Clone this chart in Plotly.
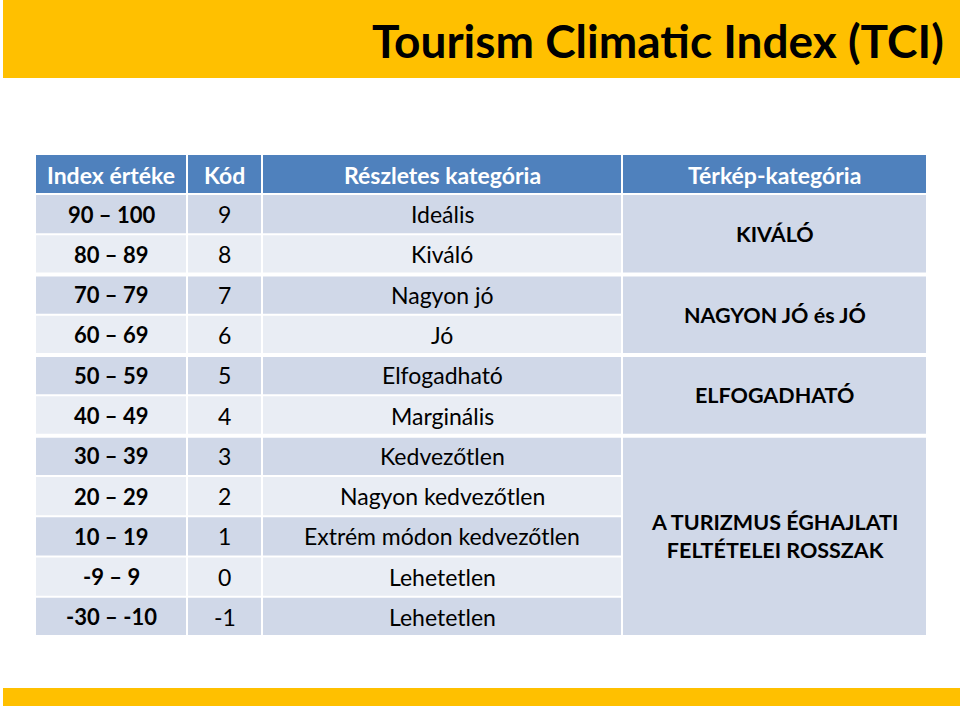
import plotly.graph_objects as go

# ---- data ----
title_text = "Tourism Climatic Index (TCI)"
headers = ["Index értéke", "Kód", "Részletes kategória", "Térkép-kategória"]
index_ranges = ["90 – 100", "80 – 89", "70 – 79", "60 – 69", "50 – 59", "40 – 49",
                "30 – 39", "20 – 29", "10 – 19", "-9 – 9", "-30 – -10"]
codes = ["9", "8", "7", "6", "5", "4", "3", "2", "1", "0", "-1"]
details = ["Ideális", "Kiváló", "Nagyon jó", "Jó", "Elfogadható", "Marginális",
           "Kedvezőtlen", "Nagyon kedvezőtlen", "Extrém módon kedvezőtlen",
           "Lehetetlen", "Lehetetlen"]
map_categories = ["KIVÁLÓ", "NAGYON JÓ és JÓ", "ELFOGADHATÓ",
                  "A TURIZMUS ÉGHAJLATI<br>FELTÉTELEI ROSSZAK"]
map_spans = [2, 2, 2, 5]

# ---- style / layout ----
W, H = 960, 706
FONT = "Lato"
YELLOW = "#FFC000"
HEAD = "#4F81BD"
DARK = "#D0D8E8"
LIGHT = "#E9EDF4"
TXT = 23
col_sizes = [22, 23, 23, 21.5]
col_edges = [35, 187, 262, 622, 927]
head_top, head_bot = 155, 194
row_h = (637 - head_bot) / len(index_ranges)

group_ends = set()
acc = 0
for s in map_spans:
    acc += s
    group_ends.add(acc)

shapes = []
annots = []

def rect(x0, y0, x1, y1, color):
    shapes.append(dict(type="rect", xref="x", yref="y", x0=x0, y0=y0, x1=x1, y1=y1,
                       fillcolor=color, line=dict(width=0), layer="below"))

def text(x, y, t, size, color="black", bold=False, xanchor="center"):
    annots.append(dict(x=x, y=y, xref="x", yref="y", text=(f"<b>{t}</b>" if bold else t),
                       showarrow=False, xanchor=xanchor, yanchor="middle",
                       font=dict(family=FONT, size=size, color=color)))

# title bars
rect(3, 0, W, 78, YELLOW)
rect(3, 688, W, 706, YELLOW)
text(946, 40, title_text, 46, "black", True, xanchor="right")

# header
for c in range(4):
    rect(col_edges[c] + 1, head_top, col_edges[c + 1] - 1, head_bot - 1, HEAD)
    text((col_edges[c] + col_edges[c + 1]) / 2, (head_top + head_bot) / 2, headers[c], TXT, "white", True)

def row_bounds(i):
    y0 = head_bot + i * row_h
    y1 = y0 + row_h
    top_gap = 2 if i in group_ends else 1
    bot_gap = 2 if (i + 1) in group_ends else 1
    if i == 0:
        top_gap = 1
    return y0 + top_gap, y1 - bot_gap

cols = [index_ranges, codes, details]
for i in range(len(index_ranges)):
    y0, y1 = row_bounds(i)
    color = DARK if i % 2 == 0 else LIGHT
    for c in range(3):
        rect(col_edges[c] + 1, y0, col_edges[c + 1] - 1, y1, color)
        text((col_edges[c] + col_edges[c + 1]) / 2, head_bot + (i + 0.5) * row_h,
             cols[c][i], col_sizes[c], "black", c == 0)

start = 0
for cat, span in zip(map_categories, map_spans):
    y0, _ = row_bounds(start)
    _, y1 = row_bounds(start + span - 1)
    rect(col_edges[3] + 1, y0, col_edges[4] - 1, y1, DARK)
    text((col_edges[3] + col_edges[4]) / 2, head_bot + (start + span / 2) * row_h, cat,
         col_sizes[3], "black", True)
    start += span

fig = go.Figure()
fig.add_trace(go.Scatter(x=[0, W], y=[0, H], mode="markers", marker=dict(opacity=0),
                         hoverinfo="skip", showlegend=False))
fig.update_layout(
    width=W, height=H, margin=dict(l=0, r=0, t=0, b=0),
    paper_bgcolor="white", plot_bgcolor="white",
    xaxis=dict(range=[0, W], visible=False, fixedrange=True),
    yaxis=dict(range=[H, 0], visible=False, fixedrange=True),
    shapes=shapes, annotations=annots, showlegend=False,
)
fig.write_html("out.html", config={"displayModeBar": False},
               post_script="document.body.style.margin='0';document.body.style.overflow='hidden';")
